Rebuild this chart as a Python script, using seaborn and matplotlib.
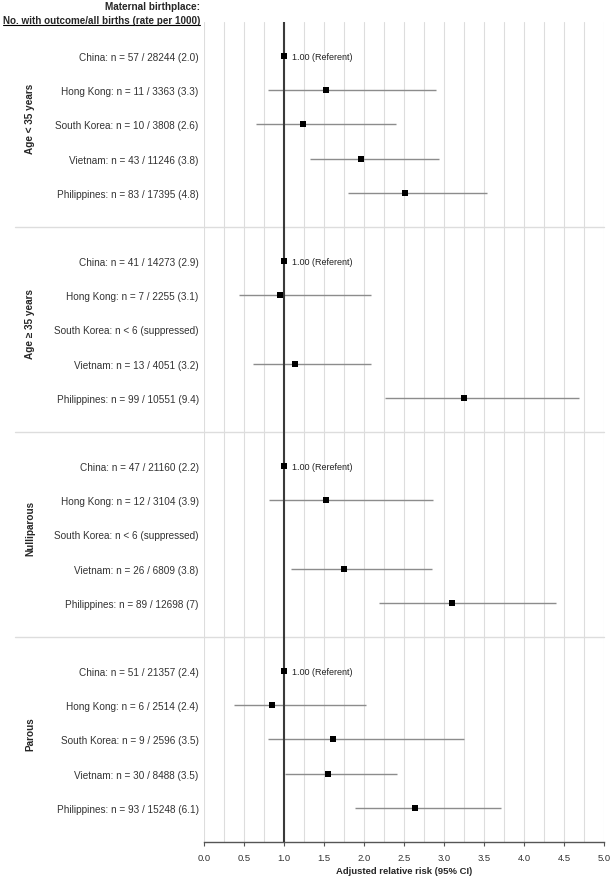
import numpy as np
import pandas as pd
import matplotlib
matplotlib.use("Agg")
import matplotlib.pyplot as plt
import seaborn as sns

# --------------------- data ---------------------
groups = ["Age < 35 years", "Age \u2265 35 years", "Nulliparous", "Parous"]
labels = [
    "China: n = 57 / 28244 (2.0)", "Hong Kong: n = 11 / 3363 (3.3)", "South Korea: n = 10 / 3808 (2.6)",
    "Vietnam: n = 43 / 11246 (3.8)", "Philippines: n = 83 / 17395 (4.8)",
    "China: n = 41 / 14273 (2.9)", "Hong Kong: n = 7 / 2255 (3.1)", "South Korea: n < 6 (suppressed)",
    "Vietnam: n = 13 / 4051 (3.2)", "Philippines: n = 99 / 10551 (9.4)",
    "China: n = 47 / 21160 (2.2)", "Hong Kong: n = 12 / 3104 (3.9)", "South Korea: n < 6 (suppressed)",
    "Vietnam: n = 26 / 6809 (3.8)", "Philippines: n = 89 / 12698 (7)",
    "China: n = 51 / 21357 (2.4)", "Hong Kong: n = 6 / 2514 (2.4)", "South Korea: n = 9 / 2596 (3.5)",
    "Vietnam: n = 30 / 8488 (3.5)", "Philippines: n = 93 / 15248 (6.1)",
]
rr = [1.00, 1.52, 1.24, 1.96, 2.51,
      1.00, 0.95, np.nan, 1.13, 3.25,
      1.00, 1.52, np.nan, 1.75, 3.10,
      1.00, 0.85, 1.61, 1.55, 2.64]
ci_lo = [np.nan, 0.80, 0.65, 1.32, 1.80,
         np.nan, 0.43, np.nan, 0.61, 2.26,
         np.nan, 0.81, np.nan, 1.09, 2.18,
         np.nan, 0.37, 0.80, 1.01, 1.88]
ci_hi = [np.nan, 2.90, 2.40, 2.93, 3.53,
         np.nan, 2.09, np.nan, 2.09, 4.69,
         np.nan, 2.86, np.nan, 2.85, 4.40,
         np.nan, 2.02, 3.25, 2.41, 3.71]
referent_text = ["1.00 (Referent)", "1.00 (Referent)", "1.00 (Rerefent)", "1.00 (Referent)"]

rows = [g * 6 + i for g in range(4) for i in range(5)]
df = pd.DataFrame({"label": labels, "rr": rr, "lo": ci_lo, "hi": ci_hi, "row": rows})

# --------------------- figure ---------------------
sns.set_style("white")
plt.rcParams["font.family"] = ["Liberation Sans", "DejaVu Sans"]

fig = plt.figure(figsize=(6.12, 8.78), dpi=100)
ax = fig.add_axes([0.3338, 0.0399, 0.6536, 0.9339])

# grid every 0.25
for gx in np.arange(0, 5.01, 0.25):
    ax.axvline(gx, color="#dddddd", lw=0.8, zorder=0)

# group separators (extend into label area)
for sep in [5, 11, 17]:
    ax.plot([-2.36, 5.0], [sep, sep], color="#dddddd", lw=1.0, clip_on=False, zorder=0)

# CIs
ci = df.dropna(subset=["lo"])
ax.hlines(ci["row"], ci["lo"], ci["hi"], color="#8c8c8c", lw=1.0, zorder=2)

# reference line
ax.axvline(1.0, color="#3a3a3a", lw=1.5, zorder=3)

# points
sns.scatterplot(data=df.dropna(subset=["rr"]), x="rr", y="row", marker="s", s=16,
                color="black", edgecolor="black", linewidth=0, zorder=4, ax=ax, legend=False)

for g in range(4):
    ax.text(1.1, g * 6, referent_text[g], fontsize=6.5, va="center", ha="left", color="#222222")

ax.set_xlim(0, 5)
ax.set_ylim(23, -1)
ax.set_xticks(np.arange(0, 5.01, 0.5))
ax.set_xticklabels([f"{v:.1f}" for v in np.arange(0, 5.01, 0.5)], fontsize=6.8, color="#333333")
ax.set_yticks(rows)
ax.set_yticklabels(labels, fontsize=7.2, color="#333333")
ax.tick_params(axis="y", length=0, pad=4)
ax.tick_params(axis="x", length=3, width=0.8, color="#555555", direction="out", pad=5, bottom=True)
ax.set_xlabel("Adjusted relative risk (95% CI)", fontsize=6.8, fontweight="bold", labelpad=3)
ax.set_ylabel("")
for s in ["left", "top", "right"]:
    ax.spines[s].set_visible(False)
ax.spines["bottom"].set_color("#555555")
ax.spines["bottom"].set_linewidth(1.0)

# group labels
for g, name in enumerate(groups):
    ax.text(-2.18, g * 6 + 1.8, name, rotation=90, fontsize=7.2, fontweight="bold",
            ha="center", va="center", clip_on=False)

# header
fig.text(200 / 612, 1 - 7 / 878, "Maternal birthplace:", fontsize=7.2, fontweight="bold",
         ha="right", va="center")
fig.text(200 / 612, 1 - 21 / 878, "No. with outcome/all births (rate per 1000)", fontsize=7.1,
         fontweight="bold", ha="right", va="center")
fig.add_artist(plt.Line2D([3 / 612, 200 / 612], [1 - 25.5 / 878, 1 - 25.5 / 878],
                          color="black", lw=0.8))

plt.savefig("out.png", dpi=100)
plt.close()
